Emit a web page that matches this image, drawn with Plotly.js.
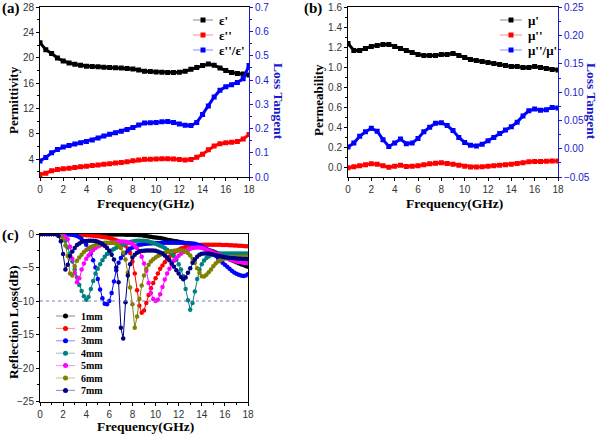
<!DOCTYPE html>
<html><head><meta charset="utf-8">
<script src="https://cdn.plot.ly/plotly-3.0.1.min.js"></script>
<style>html,body{margin:0;padding:0;background:#fff}#chart{width:600px;height:434px}</style>
</head><body><div id="chart"></div>
<script>
// ---------- DATA ----------
const freqAB = [0,0.5,1,1.5,2,2.5,3,3.5,4,4.5,5,5.5,6,6.5,7,7.5,8,8.5,9,9.5,10,10.5,11,11.5,12,12.5,13,13.5,14,14.5,15,15.5,16,16.5,17,17.5,18];
const epsReal = [22.4,21.3,20.7,20.0,19.5,19.2,19.0,18.85,18.7,18.65,18.6,18.55,18.5,18.45,18.4,18.35,18.25,18.1,17.9,17.85,17.8,17.75,17.7,17.7,17.75,17.9,18.2,18.5,18.8,19.05,18.85,18.4,18.0,17.7,17.55,17.45,17.3];
const epsImag = [1.6,1.8,2.2,2.4,2.5,2.6,2.7,2.8,2.9,3.0,3.1,3.2,3.3,3.4,3.5,3.6,3.75,3.9,4.0,4.0,4.05,4.1,4.1,4.05,3.95,3.9,3.95,4.3,4.8,5.5,6.1,6.45,6.6,6.7,6.8,7.2,7.9];
const epsTan = [0.066,0.08,0.100,0.113,0.124,0.130,0.136,0.141,0.146,0.153,0.161,0.169,0.176,0.183,0.189,0.196,0.204,0.214,0.223,0.224,0.225,0.228,0.229,0.225,0.219,0.213,0.212,0.225,0.258,0.293,0.330,0.358,0.372,0.381,0.390,0.405,0.46];
const muReal = [1.24,1.17,1.17,1.19,1.21,1.22,1.23,1.23,1.21,1.19,1.17,1.15,1.13,1.12,1.12,1.12,1.13,1.13,1.14,1.12,1.10,1.08,1.07,1.06,1.05,1.04,1.03,1.02,1.01,1.01,1.00,1.00,1.01,1.00,0.99,0.98,0.975];
const muImag = [0.0,0.01,0.02,0.03,0.04,0.035,0.02,0.005,0.015,0.025,0.012,0.015,0.02,0.03,0.038,0.045,0.048,0.042,0.035,0.025,0.015,0.008,0.006,0.01,0.015,0.02,0.025,0.03,0.035,0.042,0.05,0.058,0.062,0.062,0.063,0.066,0.067];
const muTan = [0.003,0.010,0.022,0.030,0.036,0.031,0.016,0.004,0.010,0.017,0.009,0.010,0.018,0.030,0.038,0.045,0.046,0.041,0.032,0.020,0.011,0.006,0.005,0.008,0.014,0.020,0.027,0.033,0.039,0.047,0.058,0.067,0.070,0.068,0.069,0.073,0.072];

const freqC = [0,0.2,0.4,0.6,0.8,1,1.2,1.4,1.6,1.8,2,2.2,2.4,2.6,2.8,3,3.2,3.4,3.6,3.8,4,4.2,4.4,4.6,4.8,5,5.2,5.4,5.6,5.8,6,6.2,6.4,6.6,6.8,7,7.2,7.4,7.6,7.8,8,8.2,8.4,8.6,8.8,9,9.2,9.4,9.6,9.8,10,10.2,10.4,10.6,10.8,11,11.2,11.4,11.6,11.8,12,12.2,12.4,12.6,12.8,13,13.2,13.4,13.6,13.8,14,14.2,14.4,14.6,14.8,15,15.2,15.4,15.6,15.8,16,16.2,16.4,16.6,16.8,17,17.2,17.4,17.6,17.8,18];
const rl1mm = [0,0,0,0,0, 0,0,0,0,0, -0.01,-0.01,-0.01,-0.01,-0.01, -0.02,-0.02,-0.02,-0.02,-0.02, -0.03,-0.03,-0.03,-0.03,-0.04, -0.04,-0.04,-0.05,-0.05,-0.05, -0.06,-0.06,-0.07,-0.07,-0.08, -0.08,-0.09,-0.1,-0.11,-0.12, -0.13,-0.14,-0.15,-0.17,-0.2, -0.25,-0.3,-0.36,-0.42,-0.48, -0.52,-0.56,-0.6,-0.68,-0.76, -0.84,-0.9,-0.97,-1.04,-1.1, -1.17,-1.24,-1.3,-1.37,-1.45, -1.53,-1.62,-1.72,-1.82,-1.92, -2.03,-2.14,-2.26,-2.38,-2.5, -2.63,-2.77,-2.92,-3.08,-3.25, -3.42,-3.6,-3.76,-3.92,-4.07, -4.21,-4.35,-4.5,-4.64,-4.77, -4.9];
const rl2mm = [0,0,0,0,0, 0,0,0,-0.01,-0.02, -0.03,-0.04,-0.05,-0.06,-0.07, -0.08,-0.1,-0.12,-0.14,-0.16, -0.18,-0.2,-0.23,-0.26,-0.3, -0.34,-0.38,-0.43,-0.48,-0.54, -0.6,-0.7,-0.82,-0.95,-1.1, -1.28,-1.48,-1.75,-2.15,-2.85, -4.1,-5.9,-8.4,-10.7,-11.75, -11.4,-10.3,-9.1,-8.1,-7.3, -6.6,-5.9,-5.2,-4.7,-4.2, -3.75,-3.4,-3.05,-2.8,-2.55, -2.35,-2.18,-2.04,-1.93,-1.85, -1.79,-1.74,-1.7,-1.67,-1.64, -1.62,-1.61,-1.6,-1.6,-1.6, -1.6,-1.6,-1.61,-1.62,-1.63, -1.64,-1.65,-1.67,-1.69,-1.71, -1.73,-1.75,-1.77,-1.79,-1.81, -1.83];
const rl3mm = [0,0,0,0,0, 0,0,0,0,0, 0,0,-0.02,-0.05,-0.1, -0.18,-0.3,-0.5,-0.75,-1.1, -1.6,-2.2,-2.9,-3.9,-5.0, -6.7,-8.3,-9.6,-10.4,-10.5, -10.0,-8.8,-7.1,-5.4,-4.3, -3.6,-3.1,-2.8,-2.5,-2.2, -2.0,-1.85,-1.72,-1.62,-1.55, -1.5,-1.46,-1.43,-1.4,-1.38, -1.36,-1.34,-1.33,-1.32,-1.31, -1.3,-1.3,-1.3,-1.3,-1.3, -1.3,-1.31,-1.32,-1.34,-1.36, -1.38,-1.41,-1.46,-1.55,-1.68, -1.83,-2.0,-2.2,-2.45,-2.7, -2.95,-3.25,-3.6,-3.95,-4.3, -4.6,-4.9,-5.2,-5.5,-5.75, -5.95,-6.1,-6.2,-6.25,-6.2, -6.0];
const rl4mm = [0,0,0,0,0, 0,0,0,0,-0.05, -0.3,-1.0,-2.0,-2.9,-4.1, -5.3,-6.5,-7.6,-8.5,-9.3, -9.8,-9.4,-8.2,-7.0,-5.9, -5.2,-4.5,-3.9,-3.4,-3.0, -2.7,-2.45,-2.25,-2.05,-1.88, -1.72,-1.6,-1.45,-1.32,-1.2, -1.12,-1.06,-1.02,-1.0,-1.0, -1.02,-1.06,-1.13,-1.22,-1.32, -1.45,-1.6,-1.75,-1.9,-2.1, -2.35,-2.65,-2.95,-3.35,-3.85, -4.5,-5.3,-6.3,-8.2,-9.9, -11.3,-10.3,-8.6,-6.7,-5.3, -4.5,-3.95,-3.6,-3.35,-3.15, -3.05,-3.0,-2.95,-2.92,-2.9, -2.9,-2.9,-2.9,-2.9,-2.9, -2.9,-2.9,-2.9,-2.9,-2.9, -2.9];
const rl5mm = [0,0,0,0,0, 0,0,0,0,-0.05, -0.2,-0.45,-0.8,-1.9,-3.7, -5.8,-7.2,-6.6,-5.3,-4.4, -3.7,-3.2,-2.75,-2.4,-2.1, -1.85,-1.7,-1.6,-1.5,-1.42, -1.35,-1.3,-1.25,-1.2,-1.15, -1.12,-1.12,-1.15,-1.22,-1.33, -1.5,-1.75,-2.1,-2.6,-3.4, -4.4,-5.5,-7.3,-8.8,-9.7, -10.0,-9.8,-9.0,-7.9,-6.8, -5.9,-5.2,-4.6,-4.0,-3.6, -3.25,-2.95,-2.7,-2.5,-2.32, -2.2,-2.1,-2.05,-2.0,-2.0, -2.05,-2.15,-2.3,-2.45,-2.6, -2.75,-2.9,-3.05,-3.2,-3.35, -3.5,-3.65,-3.8,-3.9,-4.0, -4.1,-4.17,-4.23,-4.28,-4.32, -4.35];
const rl6mm = [0,0,0,0,0, 0,0,0,-0.1,-0.35, -0.8,-1.7,-3.3,-5.9,-6.2, -4.8,-4.0,-3.5,-3.1,-2.7, -2.4,-2.15,-1.95,-1.8,-1.65, -1.55,-1.45,-1.38,-1.32,-1.3, -1.3,-1.32,-1.36,-1.45,-1.7, -2.1,-2.8,-3.8,-5.8,-8.0, -10.5,-14.0,-12.3,-9.7,-7.7, -6.2,-5.2,-4.6,-4.1,-3.75, -3.5,-3.3,-3.1,-2.95,-2.8, -2.7,-2.6,-2.55,-2.5,-2.48, -2.47,-2.47,-2.5,-2.6,-2.85, -3.2,-3.7,-4.3,-5.1,-5.8, -6.3,-6.35,-6.1,-5.7,-5.3, -4.8,-4.4,-4.1,-3.9,-3.75, -3.65,-3.6,-3.55,-3.5,-3.47, -3.45,-3.43,-3.42,-3.41,-3.4, -3.4];
const rl7mm = [0,0,0,0,0, 0,0,0,-0.3,-1.1, -3.0,-5.3,-4.6,-3.3,-2.6, -2.1,-1.65,-1.4,-1.2,-1.1, -1.05,-1.0,-1.0,-1.02,-1.06, -1.15,-1.3,-1.5,-1.75,-2.1, -2.5,-3.1,-3.8,-5.0,-7.2, -14.0,-15.6,-10.2,-6.2,-4.5, -3.5,-3.1,-2.8,-2.62,-2.55, -2.5,-2.47,-2.45,-2.45,-2.47, -2.5,-2.6,-2.75,-2.9,-3.2, -3.5,-3.9,-4.4,-4.9,-5.4, -5.9,-6.4,-6.75,-6.5,-5.8, -5.1,-4.3,-3.8,-3.4,-3.1, -2.95,-2.9,-2.9,-2.92,-2.97, -3.05,-3.15,-3.25,-3.33,-3.4, -3.46,-3.51,-3.56,-3.6,-3.63, -3.66,-3.68,-3.7,-3.72,-3.74, -3.75];
const rlThreshold = -10;

const labelsA = ["ε'", "ε''", "ε''/ε'"];
const labelsB = ["μ'", "μ''", "μ''/μ'"];
const labelsC = ["1mm","2mm","3mm","4mm","5mm","6mm","7mm"];
const seriesC = [rl1mm, rl2mm, rl3mm, rl4mm, rl5mm, rl6mm, rl7mm];
const colorsAB = ['#000000', '#ff0000', '#0000ff'];
const colorsC = ['#000000','#ff0000','#0000ff','#008080','#ff00ff','#808000','#000080'];
const BLUE = '#1a1acc';

// ---------- LAYOUT HELPERS ----------
const W = 600, H = 434;
const px = v => v / W;
const py = v => 1 - v / H;
const SERIF = 'Liberation Serif, Times New Roman, serif';
const SANS = 'Liberation Sans, Arial, sans-serif';

function ax(extra) {
  return Object.assign({
    showline: true, linecolor: '#000', linewidth: 1, ticks: 'outside', ticklen: 3, tickwidth: 1,
    tickcolor: '#000', showgrid: false, zeroline: false, fixedrange: true,
    tickfont: {family: SANS, size: 10, color: '#333'}
  }, extra);
}

const traces = [];
function lineTrace(x, y, color, xa, ya, sym, msize, lw) {
  return {x: x, y: y, xaxis: xa, yaxis: ya, type: 'scatter', mode: 'lines+markers', showlegend: false,
    line: {color: color, width: lw}, marker: {color: color, size: msize, symbol: sym}, hoverinfo: 'skip'};
}
traces.push(lineTrace(freqAB, epsReal, colorsAB[0], 'x', 'y', 'square', 5, 3));
traces.push(lineTrace(freqAB, epsImag, colorsAB[1], 'x', 'y', 'square', 5, 3));
traces.push(lineTrace(freqAB, epsTan, colorsAB[2], 'x', 'y2', 'square', 5, 3));
traces.push(lineTrace(freqAB, muReal, colorsAB[0], 'x2', 'y3', 'square', 5, 3));
traces.push(lineTrace(freqAB, muImag, colorsAB[1], 'x2', 'y3', 'square', 5, 3));
traces.push(lineTrace(freqAB, muTan, colorsAB[2], 'x2', 'y4', 'square', 5, 3));
seriesC.forEach((s, i) => traces.push(lineTrace(freqC, s, colorsC[i], 'x3', 'y5', 'circle', 4.5, 1)));

const shapes = [];
const annotations = [];

// threshold line
shapes.push({type: 'line', xref: 'x3', yref: 'y5', x0: 0, x1: 18, y0: rlThreshold, y1: rlThreshold,
  line: {color: '#7a7ab8', width: 1, dash: 'dot'}});

function legendItem(x0, x1, y, color, sym, label, fsize, tx, msz) {
  shapes.push({type: 'line', xref: 'paper', yref: 'paper', x0: px(x0), x1: px(x1), y0: py(y), y1: py(y),
    line: {color: color, width: 1}, opacity: 0.45});
  const cx = (x0 + x1) / 2;
  shapes.push({type: sym === 'square' ? 'rect' : 'circle', xref: 'paper', yref: 'paper',
    x0: px(cx - msz / 2), x1: px(cx + msz / 2), y0: py(y + msz / 2), y1: py(y - msz / 2),
    fillcolor: color, line: {color: color, width: 0}});
  annotations.push({xref: 'paper', yref: 'paper', x: px(tx), y: py(y), xanchor: 'left', yanchor: 'middle',
    text: '<b>' + label + '</b>', showarrow: false, font: {family: SERIF, size: fsize, color: '#000'}});
}
const legAY = [20, 35, 50];
labelsA.forEach((l, i) => legendItem(193, 213, legAY[i], colorsAB[i], 'square', l, 13, 217, 5));
labelsB.forEach((l, i) => legendItem(500, 522, legAY[i], colorsAB[i], 'square', l, 13, 526, 5));
labelsC.forEach((l, i) => legendItem(56, 75, 316 + i * 12.4, colorsC[i], 'circle', l, 10, 79, 5));

function txt(x, y, t, size, color, angle, anchor) {
  annotations.push({xref: 'paper', yref: 'paper', x: px(x), y: py(y), xanchor: anchor || 'center', yanchor: 'middle',
    text: '<b>' + t + '</b>', showarrow: false, textangle: angle || 0, font: {family: SERIF, size: size, color: color || '#000'}});
}
txt(0, 8, '(a)', 15, '#000', 0, 'left');
txt(302, 8, '(b)', 15, '#000', 0, 'left');
txt(0, 235, '(c)', 15, '#000', 0, 'left');
txt(13, 100, 'Permittivity', 13, '#000', -90);
txt(145, 203, 'Frequency(GHz)', 13.5, '#000');
txt(279, 101, 'Loss Tangent', 13.5, BLUE, 90);
txt(318, 100, 'Permeability', 13, '#000', -90);
txt(454, 203, 'Frequency(GHz)', 13.5, '#000');
txt(592, 101, 'Loss Tangent', 13.5, BLUE, 90);
txt(13, 322, 'Reflection Loss(dB)', 13.5, '#000', -90);
txt(145, 426, 'Frequency(GHz)', 13.5, '#000');

const minorX = {ticks: 'outside', ticklen: 2, dtick: 1, tickcolor: '#000'};
const blueTick = {family: SANS, size: 10, color: BLUE};

const layout = {
  width: W, height: H, autosize: false, margin: {l: 0, r: 0, t: 0, b: 0},
  paper_bgcolor: '#fff', plot_bgcolor: 'rgba(0,0,0,0)', showlegend: false,
  xaxis: ax({domain: [px(40), px(249)], anchor: 'y', range: [0, 18], tick0: 0, dtick: 2, mirror: true, minor: minorX}),
  yaxis: ax({domain: [py(177), py(7.3)], anchor: 'x', range: [1.2, 28], tick0: 0, dtick: 4,
    minor: {ticks: 'outside', ticklen: 2, dtick: 2, tickcolor: '#000'}}),
  yaxis2: ax({overlaying: 'y', side: 'right', anchor: 'x', range: [0, 0.7], tick0: 0, dtick: 0.1, tickformat: '.1f',
    linecolor: BLUE, tickcolor: BLUE, tickfont: blueTick, minor: {ticks: 'outside', ticklen: 2, dtick: 0.05, tickcolor: BLUE}}),
  xaxis2: ax({domain: [px(348), px(558)], anchor: 'y3', range: [0, 18], tick0: 0, dtick: 2, mirror: true, minor: minorX}),
  yaxis3: ax({domain: [py(177), py(7.3)], anchor: 'x2', range: [-0.093, 1.6], tick0: 0, dtick: 0.2, tickformat: '.1f',
    minor: {ticks: 'outside', ticklen: 2, dtick: 0.1, tickcolor: '#000'}}),
  yaxis4: ax({overlaying: 'y3', side: 'right', anchor: 'x2', range: [-0.05, 0.25], tick0: 0, dtick: 0.05, tickformat: '.2f',
    linecolor: BLUE, tickcolor: BLUE, tickfont: blueTick, minor: {ticks: 'outside', ticklen: 2, dtick: 0.025, tickcolor: BLUE}}),
  xaxis3: ax({domain: [px(40), px(248)], anchor: 'y5', range: [0, 18], tick0: 0, dtick: 2, mirror: true, minor: minorX}),
  yaxis5: ax({domain: [py(401.5), py(234)], anchor: 'x3', range: [-25, 0], tick0: 0, dtick: 5, mirror: true,
    minor: {ticks: 'outside', ticklen: 2, dtick: 2.5, tickcolor: '#000'}}),
  shapes: shapes, annotations: annotations
};

Plotly.newPlot('chart', traces, layout, {staticPlot: true, displayModeBar: false});
</script></body></html>
